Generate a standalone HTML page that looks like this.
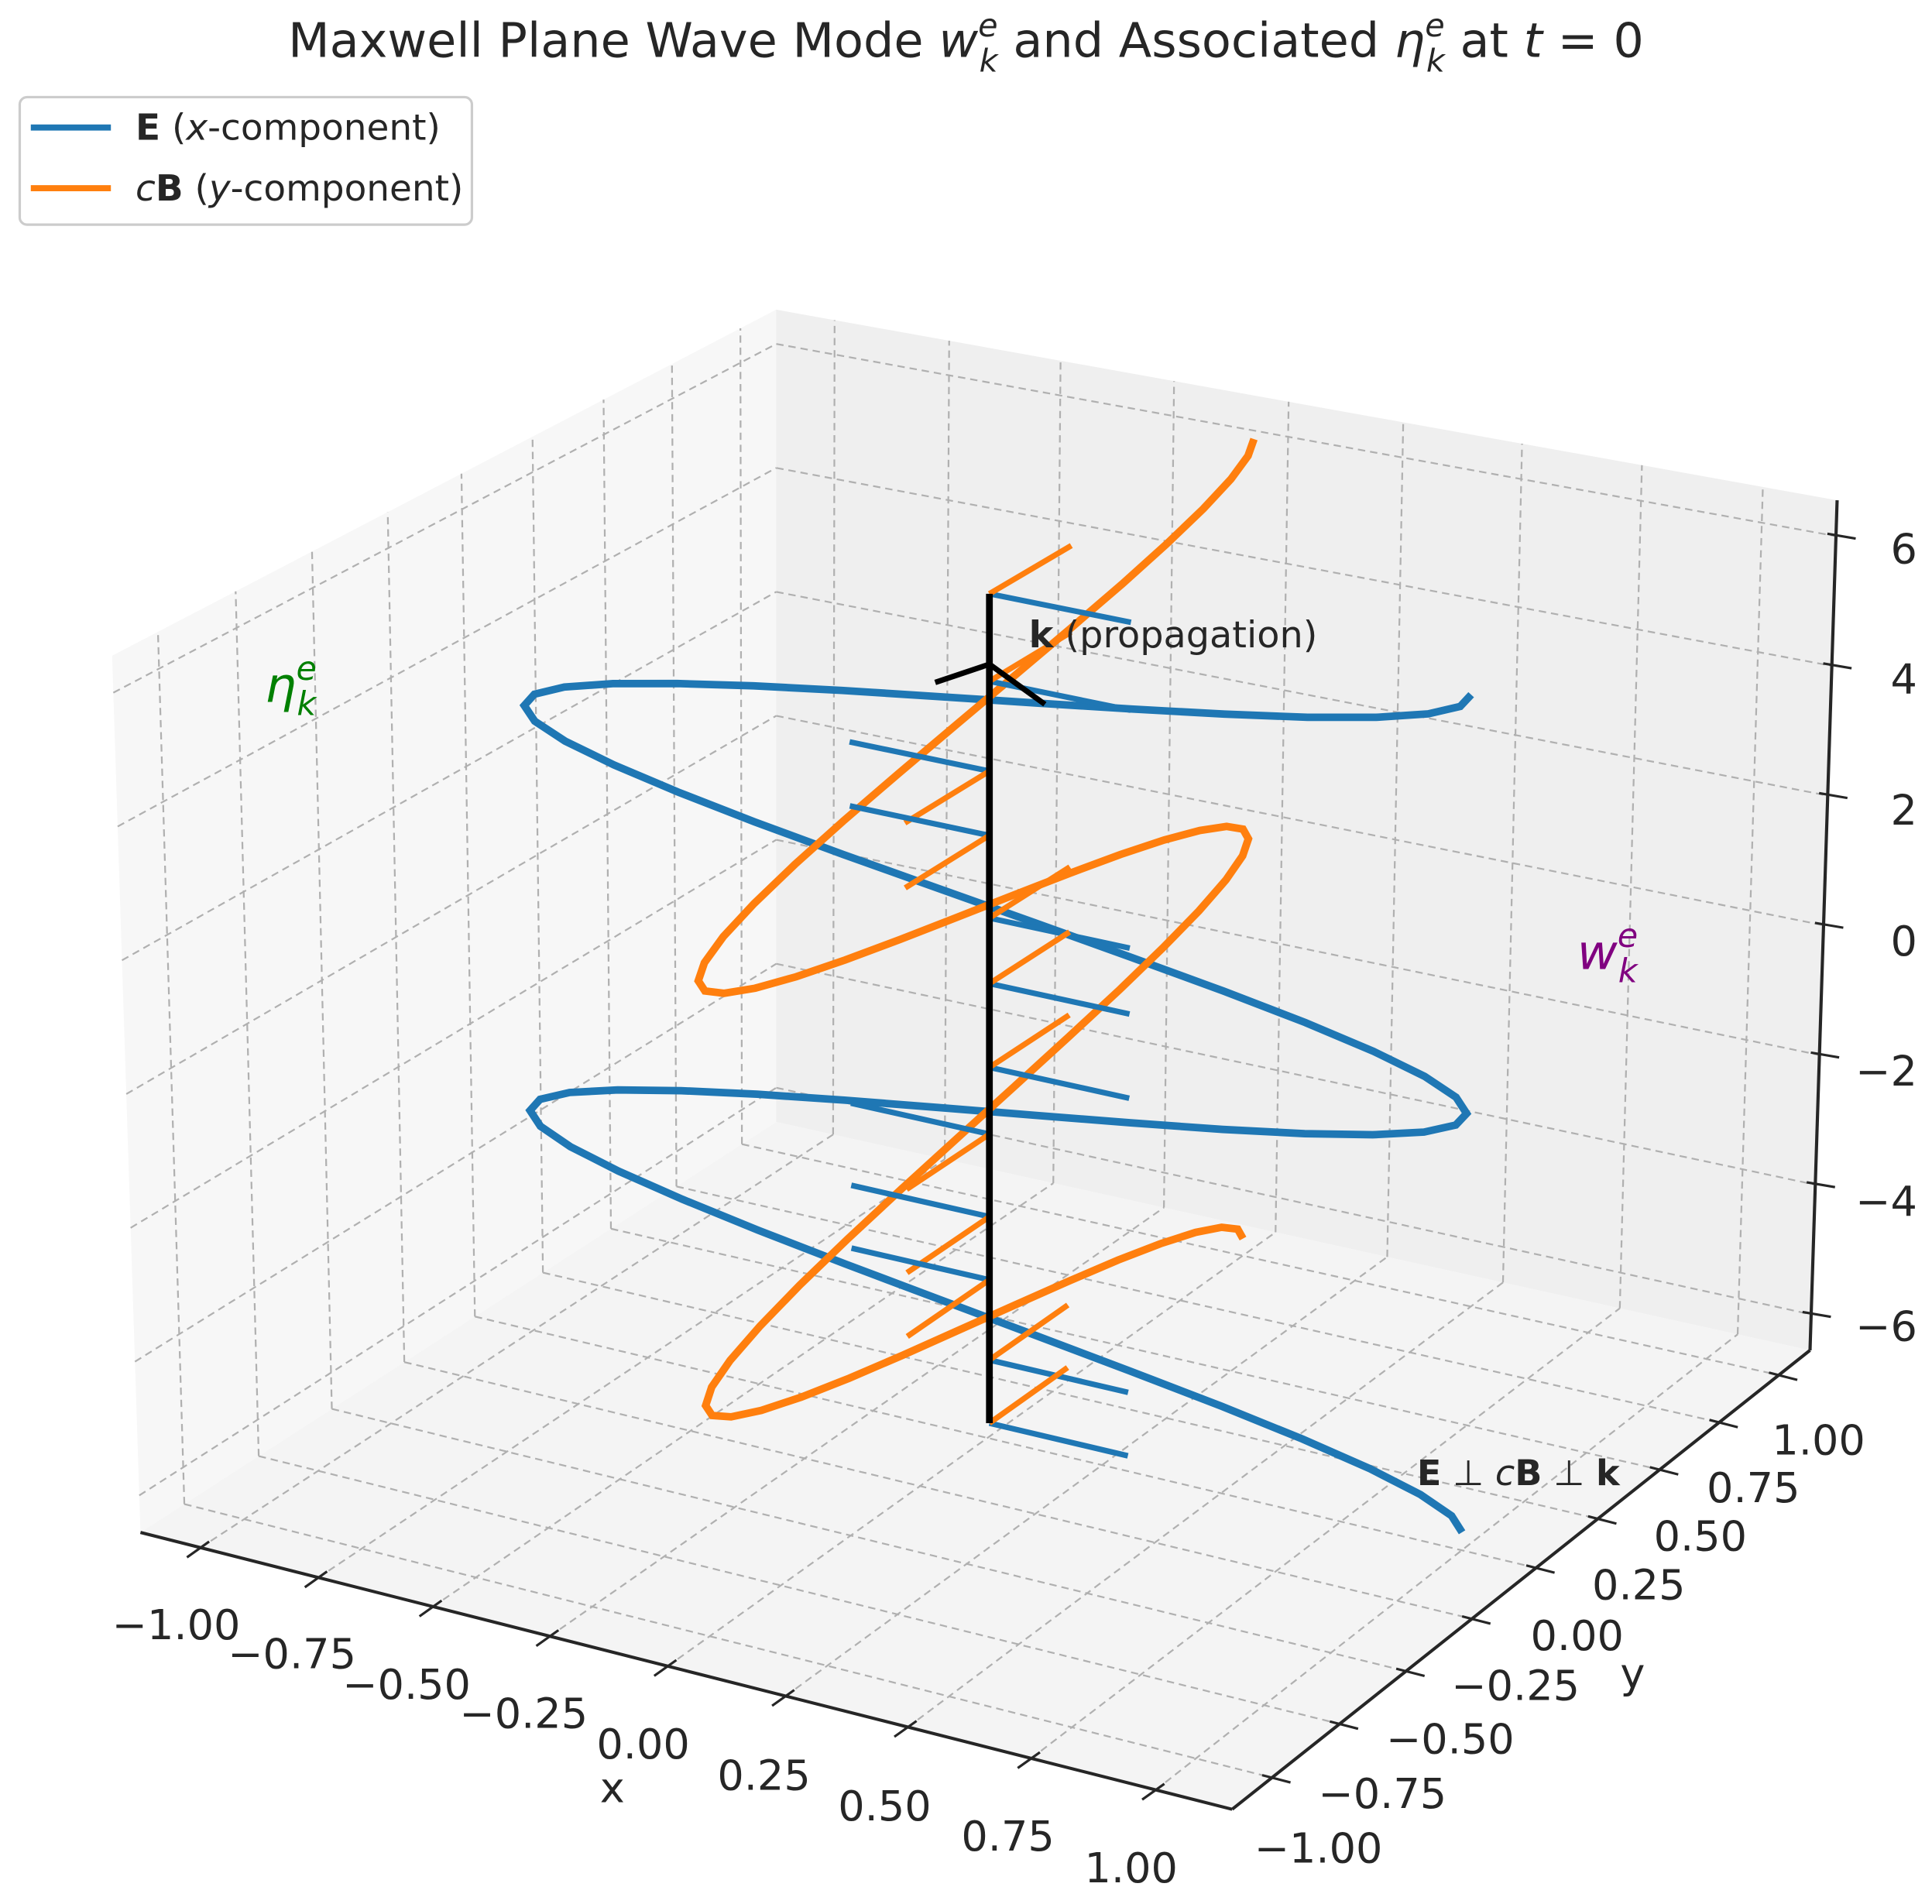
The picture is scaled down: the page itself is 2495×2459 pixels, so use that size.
<!DOCTYPE html>
<html><head><meta charset="utf-8">
<style>
html,body{margin:0;padding:0;background:#fff;}
svg{display:block;}
text{font-family:"DejaVu Sans","Liberation Sans",sans-serif;fill:#262626;}
</style></head>
<body>
<svg id="s" width="2495" height="2459" viewBox="0 0 1568 1568" preserveAspectRatio="none" xmlns="http://www.w3.org/2000/svg">
<g id="panes"></g>
<g id="grid" stroke="#b0b0b0" stroke-width="1.4" stroke-dasharray="6,4" fill="none"></g>
<g id="axes" stroke="#262626" stroke-width="2.6" fill="none"></g>
<g id="data" fill="none" stroke-linecap="butt" stroke-linejoin="miter"></g>

<!-- title -->
<text x="784" y="47" font-size="39" text-anchor="middle" fill="#333">Maxwell Plane Wave Mode <tspan font-style="italic">w</tspan><tspan font-size="26" font-style="italic" dy="-17">e</tspan><tspan font-size="26" font-style="italic" dx="-15" dy="29">k</tspan><tspan dy="-12"> and Associated </tspan><tspan font-style="italic">η</tspan><tspan font-size="26" font-style="italic" dy="-17">e</tspan><tspan font-size="26" font-style="italic" dx="-15" dy="29">k</tspan><tspan dy="-12"> at </tspan><tspan font-style="italic">t</tspan><tspan> = 0</tspan></text>

<!-- legend -->
<rect x="16" y="80" width="367" height="105" rx="6" ry="6" fill="#fff" stroke="#cccccc" stroke-width="2"/>
<line x1="25" y1="105" x2="90" y2="105" stroke="#1f77b4" stroke-width="5"/>
<line x1="25" y1="155" x2="90" y2="155" stroke="#ff7f0e" stroke-width="5"/>
<text x="110" y="115" font-size="29.5" fill="#333"><tspan font-weight="bold">E</tspan> (<tspan font-style="italic">x</tspan>-component)</text>
<text x="110" y="165" font-size="29.5" fill="#333"><tspan font-style="italic">c</tspan><tspan font-weight="bold">B</tspan> (<tspan font-style="italic">y</tspan>-component)</text>

<!-- annotations -->
<text x="835" y="533" font-size="30" fill="#333"><tspan font-weight="bold">k</tspan> (propagation)</text>
<text x="215" y="578" font-size="40" style="fill:#008000"><tspan font-style="italic">η</tspan><tspan font-size="27" font-style="italic" dy="-18">e</tspan><tspan font-size="27" font-style="italic" dx="-16" dy="29">k</tspan></text>
<text x="1280" y="798" font-size="40" style="fill:#800080"><tspan font-style="italic">w</tspan><tspan font-size="27" font-style="italic" dy="-18">e</tspan><tspan font-size="27" font-style="italic" dx="-16" dy="29">k</tspan></text>
<text x="1150" y="1223" font-size="29" fill="#333"><tspan font-weight="bold">E</tspan> ⊥ <tspan font-style="italic">c</tspan><tspan font-weight="bold">B</tspan> ⊥ <tspan font-weight="bold">k</tspan></text>

<!-- axis labels -->
<text x="497" y="1484" font-size="34" text-anchor="middle">x</text>
<text x="1325" y="1390" font-size="34" text-anchor="middle">y</text>

<g font-size="34" text-anchor="middle">
<text x="143" y="1350">−1.00</text>
<text x="237" y="1374">−0.75</text>
<text x="330" y="1399">−0.50</text>
<text x="425" y="1423">−0.25</text>
<text x="522" y="1448">0.00</text>
<text x="620" y="1474">0.25</text>
<text x="718" y="1499">0.50</text>
<text x="818" y="1524">0.75</text>
<text x="918" y="1550">1.00</text>
<text x="1070" y="1534">−1.00</text>
<text x="1122" y="1489">−0.75</text>
<text x="1177" y="1444">−0.50</text>
<text x="1230" y="1400">−0.25</text>
<text x="1280" y="1359">0.00</text>
<text x="1330" y="1317">0.25</text>
<text x="1380" y="1277">0.50</text>
<text x="1423" y="1237">0.75</text>
<text x="1476" y="1198">1.00</text>
</g>
<g font-size="34" text-anchor="end">
<text x="1556" y="464">6</text>
<text x="1556" y="571">4</text>
<text x="1556" y="679">2</text>
<text x="1556" y="787">0</text>
<text x="1556" y="894">−2</text>
<text x="1556" y="1001">−4</text>
<text x="1556" y="1104">−6</text>
</g>
</svg>
<script>
(function(){
var NS="http://www.w3.org/2000/svg";
var A=[114,1262],B=[1000,1490],C=[1469,1112],D=[630,924];
var A2=[91,540],B2=[995,745],C2=[1491,412],D2=[630,255];
var FX=[0.055,0.163,0.268,0.375,0.483,0.591,0.703,0.816,0.93];
var FY=[0.069,0.186,0.301,0.415,0.526,0.633,0.74,0.843,0.946];
function interp(T,x){var t=(x+1)/0.25;var i=Math.floor(t);if(i<0)i=0;if(i>7)i=7;var f=t-i;return T[i]+(T[i+1]-T[i])*f;}
function fz(z){return 0.5+z*0.0763;}
function bil(a,b,c,d,u,v){return [a[0]*(1-u)*(1-v)+b[0]*u*(1-v)+c[0]*u*v+d[0]*(1-u)*v, a[1]*(1-u)*(1-v)+b[1]*u*(1-v)+c[1]*u*v+d[1]*(1-u)*v];}
function Q(u,v,w){var p=bil(A,B,C,D,u,v),q=bil(A2,B2,C2,D2,u,v);return [p[0]*(1-w)+q[0]*w,p[1]*(1-w)+q[1]*w];}
function P(x,y,z){return Q(interp(FX,x),interp(FY,y),fz(z));}
function el(tag,attrs,parent){var e=document.createElementNS(NS,tag);for(var k in attrs)e.setAttribute(k,attrs[k]);document.getElementById(parent).appendChild(e);return e;}
function pts(a){return a.map(function(p){return p[0].toFixed(1)+","+p[1].toFixed(1);}).join(" ");}
function line(p,q,parent,extra){var o={x1:p[0],y1:p[1],x2:q[0],y2:q[1]};for(var k in extra)o[k]=extra[k];return el("line",o,parent);}
el("polygon",{points:pts([A,D,D2,A2]),fill:"#f7f7f7"},"panes");
el("polygon",{points:pts([D,C,C2,D2]),fill:"#efefef"},"panes");
el("polygon",{points:pts([A,B,C,D]),fill:"#f4f4f4"},"panes");
var zt=[-6,-4,-2,0,2,4,6];
FY.forEach(function(v){line(Q(0,v,0),Q(0,v,1),"grid");line(Q(0,v,0),Q(1,v,0),"grid");});
FX.forEach(function(u){line(Q(u,1,0),Q(u,1,1),"grid");line(Q(u,0,0),Q(u,1,0),"grid");});
zt.forEach(function(z){var w=fz(z);line(Q(0,0,w),Q(0,1,w),"grid");line(Q(0,1,w),Q(1,1,w),"grid");});
line(A,B,"axes");line(B,C,"axes");line(C,C2,"axes");
FX.forEach(function(u){var p=Q(u,0,0);line([p[0]+7,p[1]-5],[p[0]-11,p[1]+8],"axes",{"stroke-width":2});});
FY.forEach(function(v){var p=Q(1,v,0);line([p[0]-8,p[1]-2],[p[0]+15,p[1]+4],"axes",{"stroke-width":2});});
zt.forEach(function(z){var p=Q(1,1,fz(z));line([p[0]-7,p[1]-2],[p[0]+16,p[1]+2],"axes",{"stroke-width":2});});
var N=60,be=[],or=[];
for(var i=0;i<=N;i++){var z=-2*Math.PI+4*Math.PI*i/N;be.push(P(Math.cos(z),0,z));or.push(P(0,Math.cos(z),z));}
el("polyline",{points:pts(be),stroke:"#1f77b4","stroke-width":6.2},"data");
el("polyline",{points:pts(or),stroke:"#ff7f0e","stroke-width":6.2},"data");
var ys=[489,561,635,688,756,810,879,934,1002,1054,1120,1172];
ys.forEach(function(y){
  var z=((1185-y)/707-0.5)/0.0763; if(z>6.283)z=6.283; if(z<-6.283)z=-6.283;
  var s=Math.cos(z)>=0?1:-1;
  var b=P(0,0,z);
  var e1=P(0.3*s,0,z), e2=P(0,0.3*s,z);
  var db=[e1[0]-b[0],e1[1]-b[1]], dor=[e2[0]-b[0],e2[1]-b[1]];
  line([803,y],[803+db[0],y+db[1]],"data",{stroke:"#1f77b4","stroke-width":4.6});
  line([803,y],[803+dor[0],y+dor[1]],"data",{stroke:"#ff7f0e","stroke-width":4.6});
});
line([803,489],[803,1172],"data",{stroke:"#000","stroke-width":5.5});
el("polyline",{points:"759,562 803,547 848,580",stroke:"#000","stroke-width":4.5},"data");
})();
</script>
</body></html>
